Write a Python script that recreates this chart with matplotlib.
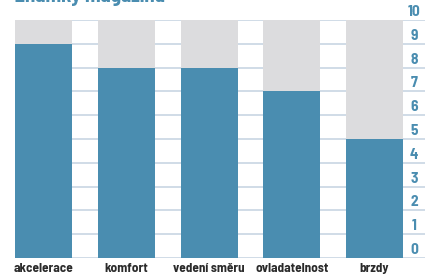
import matplotlib
matplotlib.use("Agg")
import matplotlib.pyplot as plt

categories = ["akcelerace", "komfort", "vedení směru", "ovladatelnost", "brzdy"]
values = [9, 8, 8, 7, 5]
max_value = 10
ytick_values = list(range(0, 11))
title = "Známky magazínu"

FAM = ["Barlow Semi Condensed", "DejaVu Sans"]
plt.rcParams["font.family"] = FAM

BLUE = "#4a8db0"
GREY = "#dcdcde"
GRID = "#c8d6e3"
DARK = "#2b2b2b"

W, H = 425, 274
fig = plt.figure(figsize=(W / 100, H / 100), dpi=100)
ax = fig.add_axes([15 / W, (H - 258) / H, 410 / W, 238 / H])

unit = 82.75
xmin = -28.5 / unit
ax.set_xlim(xmin, xmin + 410 / unit)
ax.set_ylim(0, max_value)

xs = list(range(len(categories)))
bw = 57 / unit
for y in ytick_values:
    ax.axhline(y, color=GRID, lw=1.2, zorder=0)
ax.bar(xs, [max_value] * len(xs), width=bw, color=GREY, zorder=1)
ax.bar(xs, values, width=bw, color=BLUE, zorder=2)

for y in ytick_values:
    ax.text(399 / 410, y + 0.34, str(y), transform=ax.get_yaxis_transform(),
            ha="center", va="center", color=BLUE, fontsize=11, fontweight="bold")

ax.set_xticks(xs, categories)
ax.tick_params(axis="x", length=0, pad=3.5, labelsize=9.5, labelcolor=DARK)
for lab in ax.get_xticklabels():
    lab.set_fontweight("bold")
ax.set_yticks([])
for s in ax.spines.values():
    s.set_visible(False)

fig.text(15 / W, 1 - 2.5 / H, title, ha="left", va="baseline", color=BLUE,
         fontsize=15, fontweight="bold")

fig.savefig("out.png", dpi=100)
